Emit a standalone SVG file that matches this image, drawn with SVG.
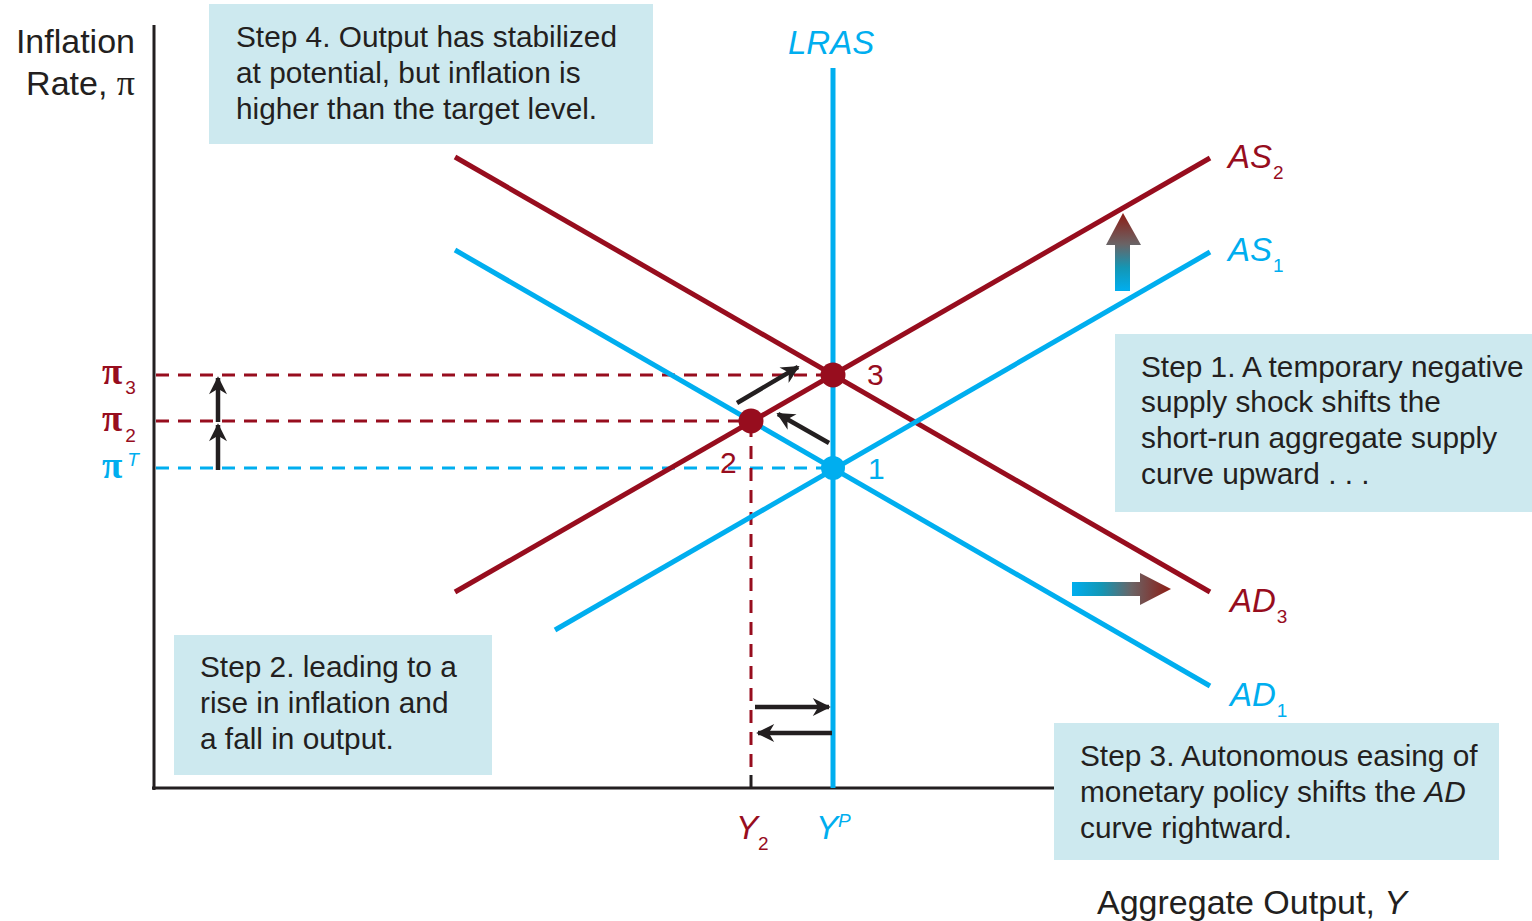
<svg xmlns="http://www.w3.org/2000/svg" width="1532" height="921" viewBox="0 0 1532 921">
<defs>
<style>
.t{font-family:"Liberation Sans",Arial,sans-serif;font-size:29.8px;fill:#231f20}
.ax{font-size:34px}
.lbl{font-family:"Liberation Sans",Arial,sans-serif;font-style:italic;font-size:33px}
.sub{font-family:"Liberation Sans",Arial,sans-serif;font-size:19px}
.num{font-family:"Liberation Sans",Arial,sans-serif;font-size:30px}
.pi{font-family:"Liberation Serif","Times New Roman",serif;font-size:37px;font-weight:bold}
.box{fill:#cde9ef}
.red{stroke:#970d1e}
.blue{stroke:#00aeef}
.curve{stroke-width:5;fill:none}
.dash{stroke-width:3;stroke-dasharray:13,9;fill:none}
.blk{stroke:#231f20;stroke-width:4.5;fill:none}
</style>
<marker id="ah" viewBox="0 0 10 10" refX="9" refY="5" markerWidth="5" markerHeight="4" orient="auto" markerUnits="strokeWidth">
<path d="M0,0 L10,5 L0,10 L3,5 z" fill="#231f20"/>
</marker>
<linearGradient id="gUp" x1="0" y1="1" x2="0" y2="0">
<stop offset="0" stop-color="#00aeef"/>
<stop offset="0.3" stop-color="#1496b4"/>
<stop offset="0.6" stop-color="#6a6466"/>
<stop offset="1" stop-color="#8e1c14"/>
</linearGradient>
<linearGradient id="gRight" x1="0" y1="0" x2="1" y2="0">
<stop offset="0" stop-color="#00aeef"/>
<stop offset="0.3" stop-color="#1496b4"/>
<stop offset="0.6" stop-color="#6a6466"/>
<stop offset="1" stop-color="#8e1c14"/>
</linearGradient>
</defs>

<g id="axes">
<line x1="154" y1="25" x2="154" y2="790" stroke="#231f20" stroke-width="3"/>
<line x1="152" y1="788" x2="1060" y2="788" stroke="#231f20" stroke-width="3"/>
<text class="t ax" x="135" y="53" text-anchor="end">Inflation</text>
<text class="t ax" x="135" y="95" text-anchor="end">Rate, <tspan style="font-family:'Liberation Serif',serif;font-size:36px">π</tspan></text>
<text class="t ax" x="1097" y="914">Aggregate Output, <tspan font-style="italic">Y</tspan></text>
</g>

<g id="connectors">
<line class="dash red" x1="156" y1="375" x2="830" y2="375"/>
<line class="dash red" x1="156" y1="421" x2="748" y2="421"/>
<line class="dash blue" x1="156" y1="468" x2="830" y2="468"/>
<line class="dash red" x1="751" y1="424" x2="751" y2="775"/>
<line x1="751" y1="775" x2="751" y2="788" stroke="#231f20" stroke-width="3"/>
<line class="curve red" x1="455" y1="157" x2="1210" y2="592"/>
<line class="curve red" x1="455" y1="592" x2="1210" y2="158"/>
<line class="curve blue" x1="455" y1="250" x2="1210" y2="686"/>
<line class="curve blue" x1="555" y1="630" x2="1210" y2="252"/>
<line class="curve blue" x1="833" y1="68" x2="833" y2="788" stroke-width="6"/>
<line class="blk" x1="218" y1="470" x2="218" y2="425" marker-end="url(#ah)"/>
<line class="blk" x1="218" y1="422" x2="218" y2="378" marker-end="url(#ah)"/>
<line class="blk" x1="737" y1="403" x2="798" y2="367" marker-end="url(#ah)"/>
<line class="blk" x1="829" y1="443" x2="778" y2="414" marker-end="url(#ah)"/>
<line class="blk" x1="755" y1="707" x2="829" y2="707" marker-end="url(#ah)"/>
<line class="blk" x1="832" y1="733" x2="758" y2="733" marker-end="url(#ah)"/>
<path d="M1115,291 L1130,291 L1130,245 L1141,245 L1123,213 L1106,245 L1115,245 z" fill="url(#gUp)"/>
<path d="M1072,582 L1140,582 L1140,573 L1171,589 L1140,605 L1140,596 L1072,596 z" fill="url(#gRight)"/>
</g>

<g id="point1"><circle cx="833" cy="468" r="12" fill="#00aeef"/><text class="num" x="868" y="479" fill="#00aeef">1</text></g>
<g id="point2"><circle cx="751" cy="421" r="12.5" fill="#970d1e"/><text class="num" x="720" y="473" fill="#970d1e">2</text></g>
<g id="point3"><circle cx="833" cy="375" r="12.5" fill="#970d1e"/><text class="num" x="867" y="385" fill="#970d1e">3</text></g>

<g id="curve-labels">
<text class="lbl" x="788" y="54" fill="#00aeef">LRAS</text>
<text class="lbl" x="1228" y="168" fill="#970d1e">AS<tspan class="sub" font-style="normal" dx="1" dy="11">2</tspan></text>
<text class="lbl" x="1228" y="261" fill="#00aeef">AS<tspan class="sub" font-style="normal" dx="1" dy="11">1</tspan></text>
<text class="lbl" x="1230" y="612" fill="#970d1e">AD<tspan class="sub" font-style="normal" dx="1" dy="11">3</tspan></text>
<text class="lbl" x="1230" y="706" fill="#00aeef">AD<tspan class="sub" font-style="normal" dx="1" dy="11">1</tspan></text>
<text class="lbl" x="736" y="839" fill="#970d1e">Y<tspan class="sub" font-style="normal" dx="0" dy="11">2</tspan></text>
<text class="lbl" x="816" y="839" fill="#00aeef">Y<tspan class="sub" font-style="italic" dx="0" dy="-12">P</tspan></text>
<text class="pi" x="102" y="384" fill="#970d1e">π<tspan class="sub" font-weight="normal" dx="3" dy="10">3</tspan></text>
<text class="pi" x="102" y="431" fill="#970d1e">π<tspan class="sub" font-weight="normal" dx="3" dy="11">2</tspan></text>
<text class="pi" x="102" y="478" fill="#00aeef">π<tspan class="sub" font-weight="normal" font-style="italic" dx="5" dy="-12">T</tspan></text>
</g>

<g id="step4">
<rect class="box" x="209" y="4" width="444" height="140"/>
<text class="t" x="236" y="47">Step 4. Output has stabilized</text>
<text class="t" x="236" y="83">at potential, but inflation is</text>
<text class="t" x="236" y="119">higher than the target level.</text>
</g>
<g id="step1">
<rect class="box" x="1115" y="334" width="417" height="178"/>
<text class="t" x="1141" y="377">Step 1. A temporary negative</text>
<text class="t" x="1141" y="412">supply shock shifts the</text>
<text class="t" x="1141" y="448">short-run aggregate supply</text>
<text class="t" x="1141" y="484">curve upward . . .</text>
</g>
<g id="step2">
<rect class="box" x="174" y="635" width="318" height="140"/>
<text class="t" x="200" y="677">Step 2. leading to a</text>
<text class="t" x="200" y="713">rise in inflation and</text>
<text class="t" x="200" y="749">a fall in output.</text>
</g>
<g id="step3">
<rect class="box" x="1054" y="723" width="445" height="137"/>
<text class="t" x="1080" y="766">Step 3. Autonomous easing of</text>
<text class="t" x="1080" y="802">monetary policy shifts the <tspan font-style="italic">AD</tspan></text>
<text class="t" x="1080" y="838">curve rightward.</text>
</g>
</svg>
